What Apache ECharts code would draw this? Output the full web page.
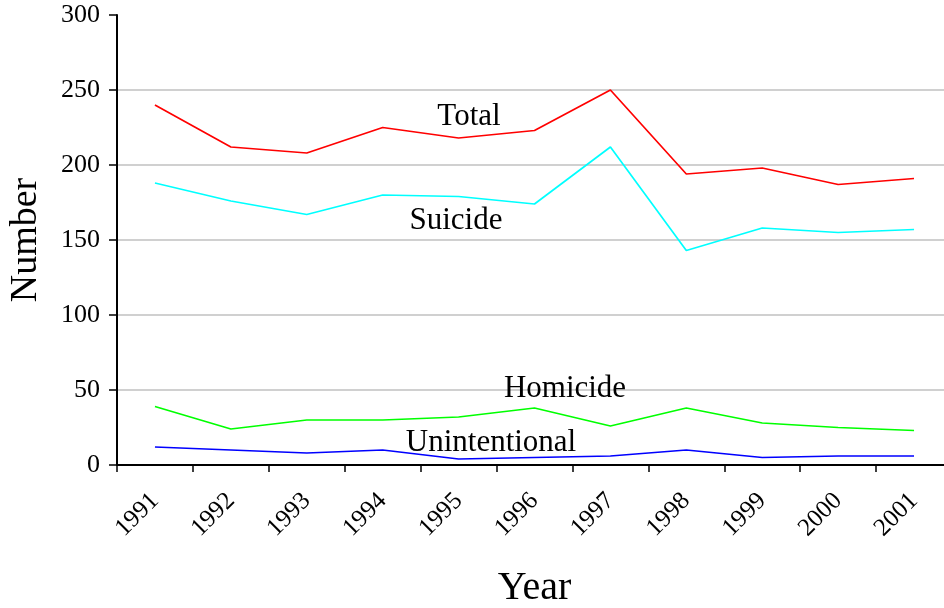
<!DOCTYPE html>
<html>
<head>
<meta charset="utf-8">
<script src="https://cdn.jsdelivr.net/npm/echarts@6/dist/echarts.min.js"></script>
<style>
html,body{margin:0;padding:0;background:#fff;}
#chart{width:944px;height:608px;}
</style>
</head>
<body>
<div id="chart"></div>
<script>
var years = ['1991','1992','1993','1994','1995','1996','1997','1998','1999','2000','2001'];
var total = [240, 212, 208, 225, 218, 223, 250, 194, 198, 187, 191];
var suicide = [188, 176, 167, 180, 179, 174, 212, 143, 158, 155, 157];
var homicide = [39, 24, 30, 30, 32, 38, 26, 38, 28, 25, 23];
var unintentional = [12, 10, 8, 10, 4, 5, 6, 10, 5, 6, 6];
var yTicks = [0, 50, 100, 150, 200, 250, 300];

var FONT = '"Liberation Serif", "Times New Roman", serif';
var chart = echarts.init(document.getElementById('chart'));

function lineSeries(name, data, color) {
  return {
    name: name, type: 'line', data: data, symbol: 'none',
    lineStyle: { color: color, width: 1.7 }, itemStyle: { color: color },
    animation: false, silent: true
  };
}

var labelDefs = [
  { text: 'Total', x: 469, y: 117 },
  { text: 'Suicide', x: 456, y: 221 },
  { text: 'Homicide', x: 565, y: 389 },
  { text: 'Unintentional', x: 491, y: 443 }
];

chart.setOption({
  backgroundColor: '#fff',
  animation: false,
  grid: { left: 117, top: 15, width: 835, height: 450, containLabel: false, outerBoundsMode: 'none' },
  xAxis: {
    type: 'category', data: years, boundaryGap: true,
    name: 'Year', nameLocation: 'middle', nameGap: 103,
    nameTextStyle: { fontFamily: FONT, fontSize: 40, color: '#000' },
    axisLine: { show: true, lineStyle: { color: '#000', width: 2 } },
    axisTick: { show: true, alignWithLabel: false, length: 7, lineStyle: { color: '#000', width: 1.5 } },
    axisLabel: { rotate: 45, margin: 32, fontFamily: FONT, fontSize: 25, color: '#000' },
    splitLine: { show: false }
  },
  yAxis: {
    type: 'value', min: yTicks[0], max: yTicks[yTicks.length - 1], interval: 50,
    name: 'Number', nameLocation: 'middle', nameGap: 72, nameRotate: 90,
    nameTextStyle: { fontFamily: FONT, fontSize: 38, color: '#000' },
    axisLine: { show: true, lineStyle: { color: '#000', width: 2 } },
    axisTick: { show: true, inside: false, length: 8, lineStyle: { color: '#000', width: 1.5 } },
    axisLabel: { margin: 17, fontFamily: FONT, fontSize: 26, color: '#000' },
    splitLine: { show: true, showMaxLine: false, showMinLine: false, lineStyle: { color: '#c0c0c0', width: 1.5 } }
  },
  series: [
    lineSeries('Total', total, '#ff0000'),
    lineSeries('Suicide', suicide, '#00ffff'),
    lineSeries('Homicide', homicide, '#00ff00'),
    lineSeries('Unintentional', unintentional, '#0000ff')
  ],
  graphic: labelDefs.map(function (d) {
    return {
      type: 'text', x: d.x, y: d.y, z: 100,
      style: { text: d.text, fontFamily: FONT, fontSize: 31, fill: '#000', textAlign: 'center', textVerticalAlign: 'middle' }
    };
  })
});
</script>
</body>
</html>
